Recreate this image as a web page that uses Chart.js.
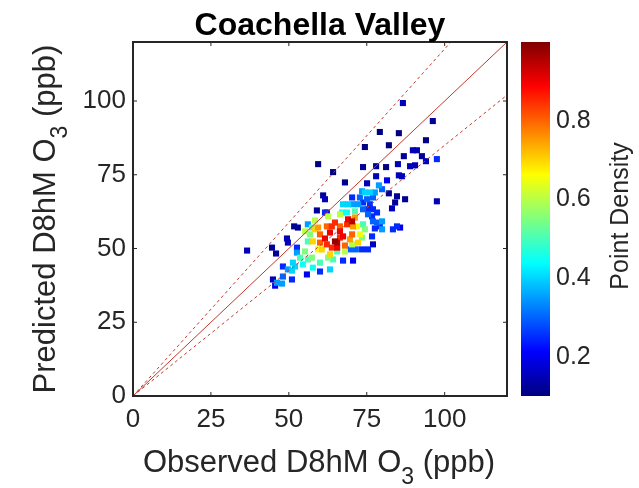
<!DOCTYPE html>
<html>
<head>
<meta charset="utf-8">
<script src="https://cdn.jsdelivr.net/npm/chart.js@4.4.0/dist/chart.umd.min.js"></script>
<style>
  html, body { margin: 0; padding: 0; background: #fff; }
</style>
</head>
<body>
<canvas id="chart" width="639" height="488"></canvas>
<script>
// observed vs predicted D8hM O3 (ppb), with point density for colour
const observed = [
  86.6, 96.2, 79.2, 85.3, 74.4, 82.1, 94.0, 89.8, 91.1, 86.9, 92.7, 94.0, 97.5, 73.8, 78.0, 81.2,
  85.0, 88.9, 90.5, 78.0, 85.3, 86.3, 81.5, 75.1, 78.9, 59.4, 64.2, 68.0, 61.0, 61.6, 59.0, 62.2,
  51.7, 52.9, 49.4, 49.7, 36.6, 44.6, 45.9, 52.6, 82.1, 84.7, 87.3, 84.1, 83.1, 97.5, 83.4, 84.7,
  85.7, 77.0, 70.3, 73.5, 74.4, 76.0, 77.6, 79.9, 72.8, 75.1, 77.0, 67.4, 69.0, 70.6, 72.2, 73.8,
  76.0, 75.4, 73.8, 77.0, 61.6, 67.1, 68.7, 71.2, 78.3, 75.4, 76.7, 77.0, 78.3, 79.9, 79.9, 77.6,
  73.8, 74.4, 72.8, 76.7, 79.2, 73.5, 75.4, 69.6, 71.5, 56.1, 62.2, 64.8, 69.0, 70.3, 68.7, 66.4,
  70.6, 71.9, 63.2, 60.0, 66.4, 67.4, 64.8, 65.5, 60.0, 62.2, 70.3, 68.0, 63.8, 61.6, 58.4, 57.7,
  69.6, 72.2, 60.6, 66.4, 63.8, 71.2, 59.4, 56.8, 56.1, 55.2, 53.6, 54.5, 52.0, 49.7, 48.1, 51.0,
  44.9, 45.6, 55.8, 60.0, 63.2, 64.2, 60.0, 67.4, 70.6, 65.5, 57.4, 52.6, 56.1, 51.3, 48.1, 51.0,
  46.2, 47.8, 57.4, 57.7, 62.6, 59.4, 68.0, 70.3, 73.5, 55.2, 58.4, 62.6, 66.4, 63.2, 65.5
];
const predicted = [
  99.3, 93.2, 89.5, 89.1, 84.4, 85.0, 86.7, 83.3, 83.3, 81.3, 81.3, 79.6, 80.3, 77.6, 77.9, 77.6,
  78.6, 77.9, 78.2, 74.5, 74.8, 74.5, 73.1, 72.1, 71.4, 78.6, 75.9, 72.4, 68.0, 66.7, 62.9, 62.2,
  57.5, 57.1, 53.4, 52.0, 49.3, 50.3, 48.3, 50.3, 68.7, 67.7, 66.7, 65.6, 63.6, 66.0, 56.5, 57.5,
  57.1, 51.4, 67.3, 69.4, 69.0, 69.0, 69.0, 70.1, 67.3, 66.7, 67.3, 65.0, 65.0, 65.0, 65.0, 65.6,
  65.0, 63.3, 63.3, 63.3, 62.2, 62.2, 62.2, 62.6, 62.2, 61.6, 60.9, 59.2, 58.8, 59.2, 56.5, 56.8,
  58.2, 56.5, 54.8, 54.1, 57.5, 49.7, 49.7, 49.7, 49.7, 58.2, 57.5, 58.8, 59.9, 59.2, 58.2, 57.5,
  57.5, 57.5, 55.4, 54.8, 53.7, 54.1, 52.4, 52.0, 52.0, 51.4, 54.8, 51.0, 50.3, 53.4, 56.5, 52.4,
  53.1, 52.0, 49.7, 55.8, 57.5, 60.5, 57.1, 54.8, 52.4, 49.0, 46.9, 44.6, 43.9, 42.9, 40.5, 39.5,
  39.5, 37.4, 41.2, 42.2, 42.9, 46.3, 45.2, 45.9, 45.9, 49.0, 46.9, 48.6, 46.3, 45.2, 43.9, 42.5,
  38.4, 38.1, 57.1, 43.5, 46.9, 49.7, 49.0, 51.4, 53.7, 55.8, 59.5, 60.9, 61.6, 48.0, 50.3
];
const density = [
  0.15, 0.12, 0.10, 0.10, 0.10, 0.10, 0.10, 0.15, 0.15, 0.12, 0.12, 0.15, 0.25, 0.12, 0.12, 0.10,
  0.15, 0.15, 0.15, 0.15, 0.15, 0.15, 0.20, 0.15, 0.35, 0.10, 0.10, 0.12, 0.12, 0.15, 0.12, 0.20,
  0.12, 0.12, 0.15, 0.15, 0.15, 0.12, 0.12, 0.25, 0.12, 0.12, 0.12, 0.12, 0.15, 0.15, 0.25, 0.25,
  0.20, 0.15, 0.25, 0.35, 0.40, 0.40, 0.35, 0.30, 0.30, 0.30, 0.30, 0.40, 0.40, 0.35, 0.35, 0.25,
  0.25, 0.25, 0.30, 0.25, 0.25, 0.45, 0.45, 0.50, 0.25, 0.30, 0.25, 0.30, 0.30, 0.35, 0.35, 0.25,
  0.50, 0.55, 0.65, 0.25, 0.25, 0.25, 0.25, 0.30, 0.30, 0.35, 0.80, 0.85, 0.90, 0.95, 0.85, 0.80,
  0.75, 0.65, 0.90, 0.80, 0.85, 0.90, 0.98, 0.95, 0.80, 0.85, 0.80, 0.80, 0.85, 0.90, 0.70, 0.70,
  0.75, 0.70, 0.70, 0.90, 0.85, 0.75, 0.75, 0.55, 0.50, 0.55, 0.50, 0.45, 0.40, 0.35, 0.30, 0.25,
  0.15, 0.20, 0.20, 0.25, 0.40, 0.50, 0.50, 0.25, 0.20, 0.50, 0.55, 0.35, 0.50, 0.40, 0.25, 0.40,
  0.35, 0.35, 0.50, 0.45, 0.55, 0.65, 0.60, 0.60, 0.55, 0.60, 0.60, 0.60, 0.60, 0.70, 0.90
];
const axisTicks = [0, 25, 50, 75, 100];
const densityTicks = [0.2, 0.4, 0.6, 0.8];
const refSlopes = [1, 1 / 0.85, 0.85]; // 1:1 and +/-15% lines

const AXIS_MAX = 120;
const CB_MIN = 0.1, CB_MAX = 1.0;
const FONT = "'Liberation Sans', Arial, sans-serif";
const INK = '#262626';

// MATLAB jet colormap over the colorbar range
function jet(v) {
  const t = (v - CB_MIN) / (CB_MAX - CB_MIN);
  const c = k => Math.round(255 * Math.max(0, Math.min(1, 1.5 - Math.abs(4 * t - k))));
  return `rgb(${c(3)},${c(2)},${c(1)})`;
}

// densest points drawn last, as in the original
const points = observed
  .map((x, i) => ({ x: x, y: predicted[i], d: density[i] }))
  .sort((a, b) => a.d - b.d);

const refLines = refSlopes.map((s, i) => ({
  type: 'line',
  data: [{ x: 0, y: 0 }, { x: Math.min(AXIS_MAX, AXIS_MAX / s), y: Math.min(AXIS_MAX, AXIS_MAX * s) }],
  borderColor: '#c0392b',
  borderWidth: 1,
  borderDash: i === 0 ? [] : [3, 3],
  pointRadius: 0,
  fill: false,
  order: 0
}));

function drawLabel(ctx, parts, x, y, rotate) {
  // parts: [text, size, dy]
  ctx.save();
  ctx.translate(x, y);
  if (rotate) ctx.rotate(-Math.PI / 2);
  let total = 0;
  parts.forEach(p => { ctx.font = `${p[1]}px ${FONT}`; total += ctx.measureText(p[0]).width; });
  let cx = -total / 2;
  ctx.textBaseline = 'alphabetic';
  ctx.textAlign = 'left';
  parts.forEach(p => {
    ctx.font = `${p[1]}px ${FONT}`;
    ctx.fillText(p[0], cx, p[2]);
    cx += ctx.measureText(p[0]).width;
  });
  ctx.restore();
}

const decorations = {
  id: 'decorations',
  afterDraw(chart) {
    const { ctx, chartArea: a, scales } = chart;
    ctx.save();
    // box and inward ticks
    ctx.strokeStyle = INK;
    ctx.lineWidth = 1;
    axisTicks.forEach(v => {
      const px = scales.x.getPixelForValue(v);
      const py = scales.y.getPixelForValue(v);
      ctx.beginPath();
      ctx.moveTo(px, a.bottom); ctx.lineTo(px, a.bottom - 4);
      ctx.moveTo(px, a.top); ctx.lineTo(px, a.top + 4);
      ctx.moveTo(a.left, py); ctx.lineTo(a.left + 4, py);
      ctx.moveTo(a.right, py); ctx.lineTo(a.right - 4, py);
      ctx.stroke();
    });
    ctx.lineWidth = 2;
    ctx.strokeRect(a.left, a.top, a.right - a.left, a.bottom - a.top);

    // colorbar
    const cb = scales.cb;
    const top = cb.getPixelForValue(CB_MAX), bottom = cb.getPixelForValue(CB_MIN);
    const grad = ctx.createLinearGradient(0, bottom, 0, top);
    for (let i = 0; i <= 40; i++) {
      grad.addColorStop(i / 40, jet(CB_MIN + (CB_MAX - CB_MIN) * i / 40));
    }
    ctx.fillStyle = grad;
    ctx.fillRect(a.right + 14, top, 29, bottom - top);

    // titles
    ctx.fillStyle = '#000';
    ctx.font = `bold 32px ${FONT}`;
    ctx.textAlign = 'center';
    ctx.textBaseline = 'alphabetic';
    ctx.fillText('Coachella Valley', (a.left + a.right) / 2, 35);

    ctx.fillStyle = INK;
    drawLabel(ctx, [['Observed D8hM O', 31, 0], ['3', 23, 12], [' (ppb)', 31, 0]],
      (a.left + a.right) / 2 - 1, 472, false);
    drawLabel(ctx, [['Predicted D8hM O', 31, 0], ['3', 23, 12], [' (ppb)', 31, 0]],
      55, (a.top + a.bottom) / 2, true);
    drawLabel(ctx, [['Point Density', 25, 0]], 628, 216, true);
    ctx.restore();
  }
};

const noPadV = s => { s.paddingTop = 0; s.paddingBottom = 0; };

new Chart(document.getElementById('chart'), {
  type: 'scatter',
  data: {
    datasets: [
      ...refLines,
      {
        data: points,
        backgroundColor: points.map(p => jet(p.d)),
        borderWidth: 0,
        pointStyle: 'rect',
        pointRadius: 4.3,
        pointHoverRadius: 4.3,
        order: 1
      }
    ]
  },
  options: {
    responsive: false,
    animation: false,
    layout: { padding: { top: 42, left: 0, right: 0, bottom: 0 } },
    plugins: { legend: { display: false }, tooltip: { enabled: false } },
    scales: {
      x: {
        type: 'linear', position: 'bottom', min: 0, max: AXIS_MAX,
        afterBuildTicks: s => { s.ticks = axisTicks.map(v => ({ value: v })); },
        afterFit: s => { s.height = 92; s.paddingLeft = 0; s.paddingRight = 0; },
        grid: { display: false, drawTicks: false },
        border: { display: false },
        ticks: { color: INK, padding: 8, maxRotation: 0, font: { family: FONT, size: 26 } }
      },
      y: {
        type: 'linear', position: 'left', min: 0, max: AXIS_MAX,
        afterBuildTicks: s => { s.ticks = axisTicks.map(v => ({ value: v })); },
        afterFit: s => { s.width = 133; noPadV(s); },
        grid: { display: false, drawTicks: false },
        border: { display: false },
        ticks: { color: INK, padding: 7, font: { family: FONT, size: 26 } }
      },
      cb: {
        type: 'linear', position: 'right', min: CB_MIN, max: CB_MAX,
        afterBuildTicks: s => { s.ticks = densityTicks.map(v => ({ value: v })); },
        afterFit: s => { s.width = 132; noPadV(s); },
        grid: { display: false, drawTicks: false },
        border: { display: false },
        ticks: { color: INK, padding: 49, font: { family: FONT, size: 25 } }
      }
    }
  },
  plugins: [decorations]
});
</script>
</body>
</html>
